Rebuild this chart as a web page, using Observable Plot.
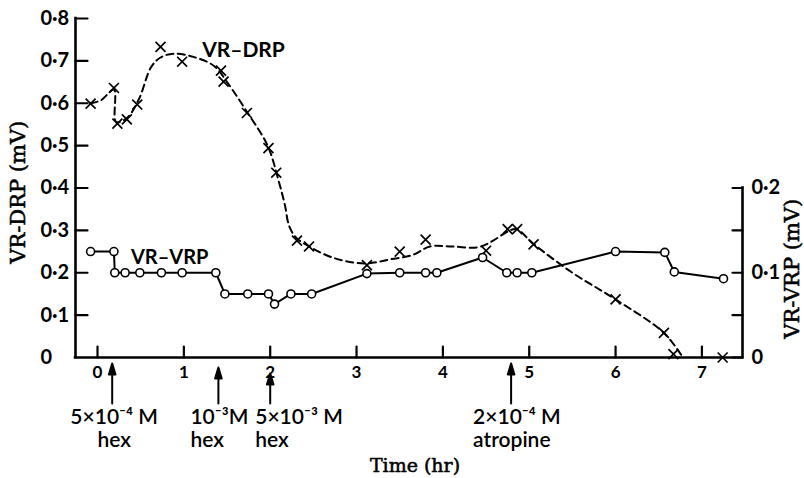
<!DOCTYPE html>
<html>
<head>
<meta charset="utf-8">
<script src="https://cdn.jsdelivr.net/npm/d3@7"></script>
<script src="https://cdn.jsdelivr.net/npm/@observablehq/plot@0.6"></script>
<style>
  html, body { margin: 0; padding: 0; background: #fff; }
  #chart { width: 804px; height: 478px; overflow: hidden; }
</style>
</head>
<body>
<div id="chart"></div>
<script>
// ---------- data ----------
// VR–DRP measured points (crosses), left axis (mV)
const drpTime  = [-0.08, 0.19, 0.23, 0.34, 0.46, 0.73, 0.98, 1.43, 1.46, 1.73, 1.98, 2.07, 2.31, 2.45, 3.12, 3.50, 3.80, 4.50, 4.75, 4.86, 5.05, 6.00, 6.56, 6.67, 7.24];
const drpValue = [0.599, 0.636, 0.552, 0.562, 0.597, 0.733, 0.698, 0.677, 0.651, 0.577, 0.494, 0.436, 0.276, 0.262, 0.218, 0.250, 0.278, 0.252, 0.303, 0.303, 0.267, 0.137, 0.058, 0.008, 0.000];
// VR–DRP hand-drawn dashed curve
const drpCurveTime  = [-0.08, 0.04, 0.19, 0.215, 0.34, 0.48, 0.62, 0.73, 0.88, 1.10, 1.35, 1.50, 1.73, 1.97, 2.10, 2.17, 2.22, 2.30, 2.45, 2.75, 3.10, 3.40, 3.65, 3.85, 4.10, 4.40, 4.55, 4.75, 4.85, 5.05, 5.50, 6.00, 6.56, 6.78];
const drpCurveValue = [0.600, 0.607, 0.632, 0.556, 0.565, 0.610, 0.685, 0.708, 0.717, 0.710, 0.688, 0.650, 0.580, 0.500, 0.415, 0.360, 0.310, 0.283, 0.262, 0.234, 0.222, 0.232, 0.242, 0.262, 0.262, 0.260, 0.272, 0.297, 0.303, 0.268, 0.200, 0.137, 0.058, 0.000];
// VR–VRP points (circles), right axis (mV)
const vrpTime  = [-0.08, 0.19, 0.20, 0.32, 0.49, 0.74, 0.98, 1.37, 1.475, 1.74, 1.98, 2.05, 2.24, 2.48, 3.12, 3.50, 3.80, 3.93, 4.46, 4.74, 4.86, 5.03, 6.00, 6.57, 6.68, 7.25];
const vrpValue = [0.125, 0.125, 0.100, 0.100, 0.100, 0.100, 0.100, 0.100, 0.075, 0.075, 0.075, 0.063, 0.075, 0.075, 0.099, 0.100, 0.100, 0.100, 0.118, 0.100, 0.100, 0.100, 0.125, 0.124, 0.101, 0.093];
// drug applications
const eventTime  = [0.17, 1.40, 2.00, 4.79];
const eventLabel = ["5×10⁻⁴ M\nhex", "10⁻³M\nhex", "5×10⁻³ M\nhex", "2×10⁻⁴ M\natropine"];
// series names and axes
const seriesNames = ["VR–DRP", "VR–VRP"];
const xTicks      = [0, 1, 2, 3, 4, 5, 6, 7];
const leftTicks   = [0, 0.1, 0.2, 0.3, 0.4, 0.5, 0.6, 0.7, 0.8];
const rightTicks  = [0, 0.1, 0.2];
const rightMinor  = [0.05, 0.15];
const xTitle = "Time (hr)";
const leftTitle = "VR-DRP (mV)";
const rightTitle = "VR-VRP (mV)";

// ---------- scale/layout configuration ----------
const xDomain = [-0.255, 7.47];
const yDomain = [0, 0.8];
const RATIO = 2;               // left-axis units per right-axis unit
const arrowLen = [40, 36, 30, 40];
const labelAnchor = ["middle", "start", "start", "start"];
const labelDx = [2, -28, -15, -38];

const drp = drpTime.map((t, i) => ({t, v: drpValue[i]}));
const drpCurve = drpCurveTime.map((t, i) => ({t, v: drpCurveValue[i]}));
const vrp = vrpTime.map((t, i) => ({t, v: vrpValue[i] * RATIO}));
const events = eventTime.map((t, i) => ({t, label: eventLabel[i], len: arrowLen[i], anchor: labelAnchor[i], dx: labelDx[i]}));

const fmt = d => d === 0 ? "0" : d.toFixed(1).replace(".", "·");

const tickUp    = {draw(c, l) { c.moveTo(0, 0); c.lineTo(0, -l); }};
const tickRight = {draw(c, l) { c.moveTo(0, 0); c.lineTo(l, 0); }};
const tickLeft  = {draw(c, l) { c.moveTo(0, 0); c.lineTo(-l, 0); }};
const arrowUp = {draw(c, l) {
  c.moveTo(0, 0); c.lineTo(0, -l + 8);
  c.moveTo(0, -l); c.lineTo(-3.3, -l + 11); c.lineTo(3.3, -l + 11); c.closePath();
}};

const SANS = "Lato, 'Open Sans', sans-serif";
const SERIF = "'DejaVu Serif', 'Liberation Serif', serif";
const serifTitle = {fontFamily: SERIF, fill: "#000", stroke: "#000", strokeWidth: 0.55};

const chart = Plot.plot({
  width: 804,
  height: 478,
  marginLeft: 75,
  marginRight: 62,
  marginTop: 18,
  marginBottom: 121,
  x: {domain: xDomain},
  y: {domain: yDomain},
  length: {type: "identity"},
  style: {background: "#fff", color: "#000", fontFamily: SANS, overflow: "visible"},
  marks: [
    // axis lines
    Plot.ruleY([0], {x1: xDomain[0], x2: xDomain[1], strokeWidth: 2.6, strokeLinecap: "square"}),
    Plot.ruleX([xDomain[0]], {y1: yDomain[0], y2: yDomain[1], strokeWidth: 2.6, strokeLinecap: "square"}),
    Plot.ruleX([xDomain[1]], {y1: 0, y2: rightTicks[rightTicks.length - 1] * RATIO, strokeWidth: 2.6, strokeLinecap: "square"}),
    // inward ticks
    Plot.vector(xTicks, {x: d => d, y: 0, length: 11, rotate: 0, anchor: "start", shape: tickUp, strokeWidth: 2.2}),
    Plot.vector(leftTicks.slice(1), {x: xDomain[0], y: d => d, length: 12, rotate: 0, anchor: "start", shape: tickRight, strokeWidth: 2.2}),
    Plot.vector(rightTicks.concat(rightMinor).map(d => d * RATIO), {x: xDomain[1], y: d => d, length: 10, rotate: 0, anchor: "start", shape: tickLeft, strokeWidth: 2.2}),
    // tick labels
    Plot.axisX({ticks: xTicks, tickSize: 0, tickPadding: 8, tickFormat: d => String(d), fontSize: 17, fontWeight: 700, label: null}),
    Plot.axisY({anchor: "left", ticks: leftTicks, tickSize: 0, tickPadding: 0, textAnchor: "start", dx: -35, tickFormat: fmt, fontSize: 20, fontWeight: 700, label: null}),
    Plot.axisY({anchor: "right", ticks: rightTicks.map(d => d * RATIO), tickSize: 0, tickPadding: 9, tickFormat: d => fmt(d / RATIO), fontSize: 20, fontWeight: 700, label: null}),
    // axis titles
    Plot.text([leftTitle], {x: xDomain[0], y: 0.39, text: d => d, rotate: -90, dx: -57, fontSize: 21, letterSpacing: 1.2, ...serifTitle}),
    Plot.text([rightTitle], {x: xDomain[1], y: 0.1 * RATIO, text: d => d, rotate: -90, dx: 50, dy: -4, fontSize: 21, letterSpacing: 1.6, ...serifTitle}),
    Plot.text([xTitle], {frameAnchor: "bottom", text: d => d, dx: 6, dy: 114, fontSize: 19, letterSpacing: 1, ...serifTitle}),
    // VR–DRP
    Plot.line(drpCurve, {x: "t", y: "v", curve: "catmull-rom", strokeWidth: 2, strokeDasharray: "7,4.5"}),
    Plot.dot(drp, {x: "t", y: "v", symbol: "times", r: 4.6, stroke: "#000", strokeWidth: 1.7}),
    // VR–VRP
    Plot.line(vrp, {x: "t", y: "v", strokeWidth: 2}),
    Plot.dot(vrp, {x: "t", y: "v", r: 4, fill: "#fff", stroke: "#000", strokeWidth: 1.6}),
    // series labels
    Plot.text([drp[6]], {x: "t", y: "v", text: () => seriesNames[0], textAnchor: "start", dx: 20, dy: -11, fontSize: 21, fontWeight: 700}),
    Plot.text([vrp[1]], {x: "t", y: "v", text: () => seriesNames[1], textAnchor: "start", dx: 17, dy: 6, fontSize: 20, fontWeight: 700}),
    // drug application arrows and labels
    Plot.vector(events, {x: "t", y: 0, length: "len", rotate: 0, anchor: "start", shape: arrowUp, dy: 46, stroke: "#000", fill: "#000", strokeWidth: 2}),
    ...events.map(e => Plot.text([e], {x: "t", y: 0, text: "label", textAnchor: e.anchor, dx: e.dx, dy: 71, lineAnchor: "middle", lineHeight: 1.1, fontSize: 21, fontWeight: 600}))
  ]
});
document.getElementById("chart").appendChild(chart);
</script>
</body>
</html>
